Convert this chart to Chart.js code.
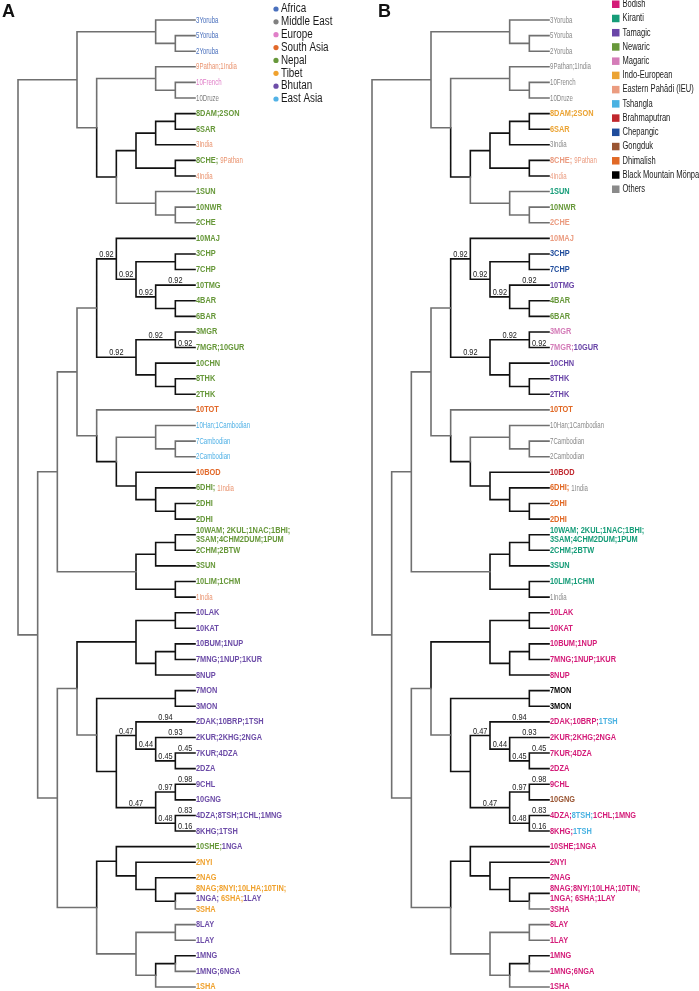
<!DOCTYPE html>
<html>
<head>
<meta charset="utf-8">
<script src="https://cdn.jsdelivr.net/npm/chart.js@4.4.1/dist/chart.umd.min.js"></script>
<style>
  body { margin: 0; background: #fff; }
  #wrap { position: relative; width: 699px; height: 991px; overflow: hidden; }
  canvas { position: absolute; top: 0; }
</style>
</head>
<body>
<div id="wrap">
  <canvas id="treeA" width="350" height="991" style="left:0"></canvas>
  <canvas id="treeB" width="349" height="991" style="left:350px"></canvas>
</div>
<script>
// tree shape: [level, child, child...]; numbers are leaf rows (0 = top)
const treeShape =
[0,
  [3, [7, 0, [8, 1, 2]],
      [4, [7, 3, [8, 4, 5]],
          [5, [6, [7, [8, 6, 7], 8], [8, 9, 10]],
              [7, 11, [8, 12, 13]]]]],
  [1,
    [2,
      [3,
        [4, [5, 14, [6, [8, 15, 16], [7, 17, [8, 18, 19]]]],
            [6, [8, 20, 21], [7, 22, [8, 23, 24]]]],
        [4, 25, [5, [7, 26, [8, 27, 28]], [6, 29, [7, 30, [8, 31, 32]]]]]],
      [6, [7, [8, 33, 34], 35], [8, 36, 37]]],
    [2,
      [3, [6, [8, 38, 39], [7, [8, 40, 41], 42]],
          [4, [8, 43, 44],
              [5, [6, 45, [7, 46, [8, 47, 48]]],
                  [7, [8, 49, 50], [8, 51, 52]]]]],
      [4, [5, 53, [6, 54, [7, 55, [8, 56, 57]]]],
          [6, [8, 58, 59], [7, [8, 60, 61], 62]]]]]];
const leafLevel = 9;

// support values, keyed by clade (first-last leaf row)
const supports = [
  ['14-19', '0.92'], ['15-19', '0.92'], ['17-19', '0.92'], ['17', '0.92'],
  ['20-24', '0.92'], ['20-21', '0.92'], ['21', '0.92'],
  ['45-48', '0.47'], ['45', '0.94'], ['46-48', '0.44'], ['46', '0.93'],
  ['47-48', '0.45'], ['47', '0.45'], ['49-52', '0.47'], ['49-50', '0.97'],
  ['49', '0.98'], ['51-52', '0.48'], ['51', '0.83'], ['52', '0.16']
];

// branches drawn in grey instead of black
const greyEdges = ['0-2', '0', '1-2', '1', '2', '3-5', '3', '4-5', '4', '5',
  '0-13', '3-13', '11-13', '11', '12-13', '12', '13',
  '25', '26-28', '26', '27-28', '27', '28', '25-32',
  '14-62', '14-37', '38-62', '14-32', '33-37', '14-24', '38-52', '43-52',
  '53-62', '58-62', '58-59', '60-62', '58', '59', '61', '62', '57'];

// panel A: region of origin
const leavesA = [
  [['3Yoruba', 'AF']], [['5Yoruba', 'AF']], [['2Yoruba', 'AF']],
  [['9Pathan;1India', 'IN']], [['10French', 'EU']], [['10Druze', 'ME']],
  [['8DAM;2SON', 'NE']], [['6SAR', 'NE']], [['3India', 'IN']],
  [['8CHE; ', 'NE'], ['9Pathan', 'IN']], [['4India', 'IN']],
  [['1SUN', 'NE']], [['10NWR', 'NE']], [['2CHE', 'NE']], [['10MAJ', 'NE']],
  [['3CHP', 'NE']], [['7CHP', 'NE']], [['10TMG', 'NE']], [['4BAR', 'NE']],
  [['6BAR', 'NE']], [['3MGR', 'NE']], [['7MGR;10GUR', 'NE']], [['10CHN', 'NE']],
  [['8THK', 'NE']], [['2THK', 'NE']], [['10TOT', 'SA']],
  [['10Han;1Cambodian', 'EA']], [['7Cambodian', 'EA']], [['2Cambodian', 'EA']],
  [['10BOD', 'SA']], [['6DHI; ', 'NE'], ['1India', 'IN']], [['2DHI', 'NE']],
  [['2DHI', 'NE']], [['10WAM; 2KUL;1NAC;1BHI;\n3SAM;4CHM2DUM;1PUM', 'NE']],
  [['2CHM;2BTW', 'NE']], [['3SUN', 'NE']], [['10LIM;1CHM', 'NE']], [['1India', 'IN']],
  [['10LAK', 'BT']], [['10KAT', 'BT']], [['10BUM;1NUP', 'BT']],
  [['7MNG;1NUP;1KUR', 'BT']], [['8NUP', 'BT']], [['7MON', 'BT']], [['3MON', 'BT']],
  [['2DAK;10BRP;1TSH', 'BT']], [['2KUR;2KHG;2NGA', 'BT']], [['7KUR;4DZA', 'BT']],
  [['2DZA', 'BT']], [['9CHL', 'BT']], [['10GNG', 'BT']],
  [['4DZA;8TSH;1CHL;1MNG', 'BT']], [['8KHG;1TSH', 'BT']],
  [['10SHE;', 'NE'], ['1NGA', 'BT']], [['2NYI', 'TI']], [['2NAG', 'TI']],
  [['8NAG;8NYI;10LHA;10TIN;\n', 'TI'], ['1NGA;', 'BT'], [' 6SHA;', 'TI'], ['1LAY', 'BT']],
  [['3SHA', 'TI']], [['8LAY', 'BT']], [['1LAY', 'BT']], [['1MNG', 'BT']],
  [['1MNG;6NGA', 'BT']], [['1SHA', 'TI']]
];

// panel B: language group
const leavesB = [
  [['3Yoruba', 'OT']], [['5Yoruba', 'OT']], [['2Yoruba', 'OT']],
  [['9Pathan;1India', 'OT']], [['10French', 'OT']], [['10Druze', 'OT']],
  [['8DAM;2SON', 'IE']], [['6SAR', 'IE']], [['3India', 'OT']],
  [['8CHE; ', 'EP'], ['9Pathan', 'EP']], [['4India', 'EP']],
  [['1SUN', 'KI']], [['10NWR', 'NW']], [['2CHE', 'EP']], [['10MAJ', 'EP']],
  [['3CHP', 'CH']], [['7CHP', 'CH']], [['10TMG', 'TA']], [['4BAR', 'NW']],
  [['6BAR', 'NW']], [['3MGR', 'MA']], [['7MGR;', 'MA'], ['10GUR', 'TA']], [['10CHN', 'TA']],
  [['8THK', 'TA']], [['2THK', 'TA']], [['10TOT', 'DH']],
  [['10Han;1Cambodian', 'OT']], [['7Cambodian', 'OT']], [['2Cambodian', 'OT']],
  [['10BOD', 'BR']], [['6DHI; ', 'DH'], ['1India', 'OT']], [['2DHI', 'DH']],
  [['2DHI', 'DH']], [['10WAM; 2KUL;1NAC;1BHI;\n3SAM;4CHM2DUM;1PUM', 'KI']],
  [['2CHM;2BTW', 'KI']], [['3SUN', 'KI']], [['10LIM;1CHM', 'KI']], [['1India', 'OT']],
  [['10LAK', 'BO']], [['10KAT', 'BO']], [['10BUM;1NUP', 'BO']],
  [['7MNG;1NUP;1KUR', 'BO']], [['8NUP', 'BO']], [['7MON', 'BM']], [['3MON', 'BM']],
  [['2DAK;10BRP;', 'BO'], ['1TSH', 'TS']], [['2KUR;2KHG;2NGA', 'BO']], [['7KUR;4DZA', 'BO']],
  [['2DZA', 'BO']], [['9CHL', 'BO']], [['10GNG', 'GO']],
  [['4DZA;', 'BO'], ['8TSH;', 'TS'], ['1CHL;1MNG', 'BO']], [['8KHG;', 'BO'], ['1TSH', 'TS']],
  [['10SHE;1NGA', 'BO']], [['2NYI', 'BO']], [['2NAG', 'BO']],
  [['8NAG;8NYI;10LHA;10TIN;\n1NGA; 6SHA;1LAY', 'BO']],
  [['3SHA', 'BO']], [['8LAY', 'BO']], [['1LAY', 'BO']], [['1MNG', 'BO']],
  [['1MNG;6NGA', 'BO']], [['1SHA', 'BO']]
];

const legendA = ['Africa', 'Middle East', 'Europe', 'South Asia', 'Nepal', 'Tibet', 'Bhutan', 'East Asia'];
const legendKeysA = ['AF', 'ME', 'EU', 'SA', 'NE', 'TI', 'BT', 'EA'];
const legendB = ['Bodish', 'Kiranti', 'Tamagic', 'Newaric', 'Magaric', 'Indo-European',
  'Eastern Pahādi (IEU)', 'Tshangla', 'Brahmaputran', 'Chepangic', 'Gongduk', 'Dhimalish',
  'Black Mountain Mönpa', 'Others'];
const legendKeysB = ['BO', 'KI', 'TA', 'NW', 'MA', 'IE', 'EP', 'TS', 'BR', 'CH', 'GO', 'DH', 'BM', 'OT'];

const colorsA = {
  AF: '#4a70bd', ME: '#808080', EU: '#e07fc8', SA: '#e2692a', IN: '#ea9470',
  NE: '#67983a', TI: '#f0a22e', BT: '#6d4da8', EA: '#52b2e6'
};
const colorsB = {
  BO: '#d41b78', KI: '#159c78', TA: '#6a46a8', NW: '#67983a', MA: '#d47cb8',
  IE: '#eba333', EP: '#eb9c80', TS: '#4ab2e2', BR: '#c0272d', CH: '#1f4c9c',
  GO: '#9a5532', DH: '#e16926', BM: '#000000', OT: '#8a8a8a'
};

const refNames = /Yoruba|Pathan|India|French|Druze|Han|Cambodian/;

// check whether the narrow face is installed, otherwise squeeze the normal one
const probe = document.createElement('canvas').getContext('2d');
probe.font = '20px "Liberation Sans Narrow", monospace';
const wNarrow = probe.measureText('abcdefghijklm').width;
probe.font = '20px monospace';
const hasNarrow = Math.abs(wNarrow - probe.measureText('abcdefghijklm').width) > 0.5;

function drawText(ctx, str, x, y, size, weight, squeeze) {
  const family = hasNarrow ? '"Liberation Sans Narrow"' : '"Liberation Sans"';
  const sx = hasNarrow ? squeeze : squeeze * 0.82;
  ctx.font = weight + ' ' + size + 'px ' + family + ', Arial, sans-serif';
  ctx.save();
  ctx.translate(x, y);
  ctx.scale(sx, 1);
  ctx.fillText(str, 0, 0);
  ctx.restore();
  return ctx.measureText(str).width * sx;
}

function buildEdges(shape) {
  const edges = [];
  function walk(node) {
    if (typeof node === 'number') return { x: leafLevel, y: node, lo: node, hi: node };
    const [h, ...kids] = node;
    const ks = kids.map(walk);
    const y = (ks[0].y + ks[ks.length - 1].y) / 2;
    ks.forEach(k => edges.push({
      px: h, py: y, cx: k.x, cy: k.y,
      key: k.lo === k.hi ? String(k.lo) : k.lo + '-' + k.hi
    }));
    return { x: h, y, lo: ks[0].lo, hi: ks[ks.length - 1].hi };
  }
  walk(shape);
  return edges;
}

const edges = buildEdges(treeShape);

function edgePoints(grey) {
  const pts = [];
  edges.forEach(e => {
    const isGrey = greyEdges.includes(e.key);
    if (isGrey !== grey) return;
    pts.push({ x: e.px, y: e.py }, { x: e.px, y: e.cy }, { x: e.cx, y: e.cy }, { x: null, y: null });
  });
  return pts;
}

const textPlugin = {
  id: 'treeText',
  afterDatasetsDraw(chart, args, opts) {
    const { ctx, scales: { x, y } } = chart;
    ctx.save();
    ctx.textBaseline = 'middle';
    ctx.textAlign = 'left';

    // leaf labels
    opts.leaves.forEach((pieces, row) => {
      const x0 = x.getPixelForValue(leafLevel) + 1;
      const yc = y.getPixelForValue(row);
      const twoLine = pieces.some(p => p[0].includes('\n'));
      let cx = x0;
      let line = 0;
      pieces.forEach(([txt, key]) => {
        const thin = refNames.test(txt);
        ctx.fillStyle = opts.colors[key];
        const parts = txt.split('\n');
        parts.forEach((part, i) => {
          if (i > 0) { line++; cx = x0; }
          if (!part) return;
          const ly = twoLine ? yc + (line === 0 ? -4.6 : 4.6) : yc;
          cx += thin
            ? drawText(ctx, part, cx, ly, 9.5, 'normal', 0.78)
            : drawText(ctx, part, cx, ly, 9, 'bold', 1);
        });
      });
    });

    // support values, centred over their branch
    ctx.fillStyle = '#222';
    ctx.textBaseline = 'alphabetic';
    supports.forEach(([key, val]) => {
      const e = edges.find(d => d.key === key);
      const mid = (x.getPixelForValue(e.px) + x.getPixelForValue(e.cx)) / 2;
      const yy = y.getPixelForValue(e.cy) - 2;
      ctx.font = '9px "Liberation Sans Narrow", "Liberation Sans", Arial';
      const w = ctx.measureText(val).width * (hasNarrow ? 1 : 0.82);
      drawText(ctx, val, mid - w / 2, yy, 9, 'normal', 1);
    });

    // panel letter
    ctx.fillStyle = '#111';
    ctx.textBaseline = 'top';
    ctx.font = 'bold 18px "Liberation Sans", Arial';
    ctx.fillText(opts.letter, opts.letterX, 3);

    // legend
    ctx.textBaseline = 'middle';
    opts.legend.forEach((name, i) => {
      const col = opts.colors[opts.legendKeys[i]];
      ctx.fillStyle = col;
      if (opts.square) {
        const yc = 4.3 + i * 14.23;
        ctx.fillRect(opts.legendX, yc - 3.8, 7.5, 7.5);
        ctx.fillStyle = '#1a1a1a';
        drawText(ctx, name, opts.legendX + 10.5, yc, 10, 'normal', 0.92);
      } else {
        const yc = 9 + i * 12.86;
        ctx.beginPath();
        ctx.arc(opts.legendX, yc, 2.6, 0, Math.PI * 2);
        ctx.fill();
        ctx.fillStyle = '#1a1a1a';
        drawText(ctx, name, opts.legendX + 5, yc, 12, 'normal', 1);
      }
    });
    ctx.restore();
  }
};

function makeTree(id, padding, textOpts) {
  new Chart(document.getElementById(id), {
    type: 'scatter',
    data: {
      datasets: [
        { data: edgePoints(true), borderColor: '#707070' },
        { data: edgePoints(false), borderColor: '#111111' }
      ].map(d => Object.assign(d, {
        showLine: true, spanGaps: false, pointRadius: 0, borderWidth: 1.6,
        borderCapStyle: 'square', borderJoinStyle: 'miter', clip: false
      }))
    },
    options: {
      responsive: false,
      animation: false,
      events: [],
      layout: { padding },
      scales: {
        x: { type: 'linear', min: 0, max: leafLevel, display: false },
        y: { type: 'linear', min: 0, max: leavesA.length - 1, reverse: true, display: false }
      },
      plugins: { legend: { display: false }, tooltip: { enabled: false }, treeText: textOpts }
    },
    plugins: [textPlugin]
  });
}

makeTree('treeA', { left: 18, right: 155, top: 20, bottom: 4 }, {
  leaves: leavesA, colors: colorsA, legend: legendA, legendKeys: legendKeysA,
  letter: 'A', letterX: 2, legendX: 276, square: false
});
makeTree('treeB', { left: 22, right: 150, top: 20, bottom: 4 }, {
  leaves: leavesB, colors: colorsB, legend: legendB, legendKeys: legendKeysB,
  letter: 'B', letterX: 28, legendX: 262, square: true
});
</script>
</body>
</html>
